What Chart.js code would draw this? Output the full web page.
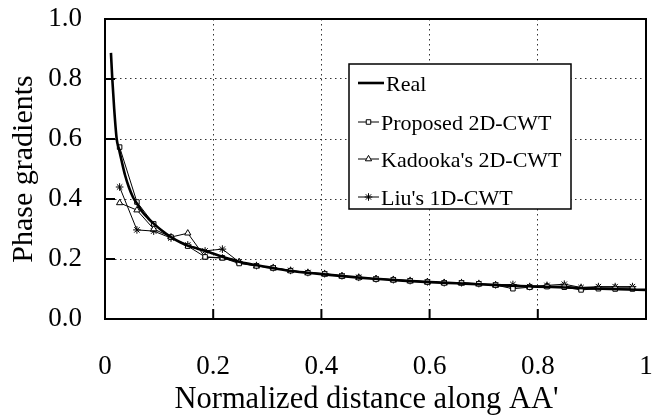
<!DOCTYPE html>
<html>
<head>
<meta charset="utf-8">
<script src="https://cdn.jsdelivr.net/npm/chart.js@4/dist/chart.umd.min.js"></script>
<style>
html,body{margin:0;padding:0;background:#fff;}
#wrap{width:654px;height:416px;position:relative;}
</style>
</head>
<body>
<div id="wrap"><canvas id="c" width="654" height="416"></canvas></div>
<script>
// ---- data ----
const seriesNames = ["Real", "Proposed 2D-CWT", "Kadooka's 2D-CWT", "Liu's 1D-CWT"];
const xTickLabels = ["0", "0.2", "0.4", "0.6", "0.8", "1"];
const yTickLabels = ["0.0", "0.2", "0.4", "0.6", "0.8", "1.0"];
const xTitle = "Normalized distance along AA'";
const yTitle = "Phase gradients";

const realX = [0.011, 0.0135, 0.017, 0.0216, 0.026, 0.031, 0.037, 0.044, 0.052, 0.059, 0.07, 0.08, 0.09, 0.105, 0.122, 0.14, 0.155, 0.17, 0.186, 0.2, 0.218, 0.235, 0.25, 0.28, 0.31, 0.34, 0.375, 0.41, 0.44, 0.47, 0.5, 0.55, 0.6, 0.65, 0.7, 0.75, 0.8, 0.85, 0.9, 0.95, 1.0];
const realY = [0.887, 0.80, 0.70, 0.60, 0.565, 0.525, 0.48, 0.44, 0.405, 0.385, 0.355, 0.335, 0.318, 0.295, 0.273, 0.255, 0.243, 0.235, 0.227, 0.218, 0.207, 0.198, 0.190, 0.179, 0.170, 0.161, 0.154, 0.148, 0.143, 0.138, 0.134, 0.128, 0.123, 0.119, 0.115, 0.111, 0.108, 0.105, 0.102, 0.099, 0.097];

const sampleX = [0.027, 0.059, 0.090, 0.122, 0.153, 0.185, 0.217, 0.248, 0.280, 0.311, 0.343, 0.375, 0.406, 0.438, 0.469, 0.501, 0.533, 0.564, 0.596, 0.627, 0.659, 0.691, 0.722, 0.754, 0.785, 0.817, 0.849, 0.880, 0.912, 0.943, 0.975];
const proposedY = [0.573, 0.390, 0.317, 0.273, 0.243, 0.207, 0.204, 0.185, 0.177, 0.170, 0.161, 0.154, 0.150, 0.143, 0.138, 0.133, 0.130, 0.127, 0.123, 0.120, 0.120, 0.117, 0.113, 0.101, 0.106, 0.108, 0.106, 0.097, 0.101, 0.100, 0.100];
const kadookaY  = [0.387, 0.363, 0.300, 0.273, 0.286, 0.206, 0.203, 0.190, 0.177, 0.170, 0.161, 0.154, 0.150, 0.143, 0.138, 0.134, 0.131, 0.127, 0.124, 0.121, 0.120, 0.117, 0.113, 0.108, 0.107, 0.109, 0.110, 0.103, 0.104, 0.104, 0.104];
const liuY      = [0.440, 0.297, 0.293, 0.270, 0.247, 0.227, 0.233, 0.190, 0.178, 0.171, 0.162, 0.155, 0.151, 0.144, 0.139, 0.134, 0.131, 0.128, 0.124, 0.121, 0.121, 0.118, 0.114, 0.115, 0.108, 0.112, 0.116, 0.105, 0.108, 0.108, 0.108];

// ---- build ----
function pts(xs, ys){ return xs.map((x,i)=>({x:x, y:ys[i]})); }
const FONT = "'Liberation Serif','Times New Roman',serif";

const datasets = [
  {label: seriesNames[0], data: pts(realX, realY), borderColor:'#000', borderWidth:2.6, pointRadius:0, cubicInterpolationMode:'monotone', fill:false},
  {label: seriesNames[1], data: pts(sampleX, proposedY), borderColor:'#000', borderWidth:1, pointStyle:'rect', pointRadius:3.2, pointBackgroundColor:'#fff', pointBorderColor:'#000', pointBorderWidth:1, tension:0, fill:false},
  {label: seriesNames[2], data: pts(sampleX, kadookaY), borderColor:'#000', borderWidth:1, pointStyle:'triangle', pointRadius:3.6, pointBackgroundColor:'#fff', pointBorderColor:'#000', pointBorderWidth:1, tension:0, fill:false},
  {label: seriesNames[3], data: pts(sampleX, liuY), borderColor:'#000', borderWidth:1, pointStyle:'star', pointRadius:3.8, pointBackgroundColor:'#fff', pointBorderColor:'#000', pointBorderWidth:1, tension:0, fill:false}
];

const framePlugin = {
  id: 'frame',
  afterDatasetsDraw(chart){
    const ctx = chart.ctx, a = chart.chartArea;
    const xs = chart.scales.x, ys = chart.scales.y;
    ctx.save();
    ctx.strokeStyle = '#000';
    ctx.lineWidth = 2;
    ctx.setLineDash([]);
    // inward ticks
    ctx.beginPath();
    [0.2,0.4,0.6,0.8].forEach(v=>{
      const py = ys.getPixelForValue(v);
      ctx.moveTo(a.left, py); ctx.lineTo(a.left+10, py);
      const px = xs.getPixelForValue(v);
      ctx.moveTo(px, a.bottom); ctx.lineTo(px, a.bottom-10);
    });
    ctx.stroke();
    ctx.strokeRect(a.left, a.top, a.right-a.left, a.bottom-a.top);

    // x axis title (slightly left of plot centre, as in the reference)
    ctx.fillStyle = '#000';
    ctx.font = "30.5px " + FONT;
    ctx.textAlign = 'center';
    ctx.textBaseline = 'alphabetic';
    ctx.fillText(xTitle, 366.5, 408);

    // legend
    const L = 349, T = 64, R = 571, B = 209;
    ctx.fillStyle = '#fff';
    ctx.fillRect(L, T, R-L, B-T);
    ctx.lineWidth = 1.5;
    ctx.strokeRect(L, T, R-L, B-T);
    const rows = [83, 122, 159, 197];
    ctx.font = "22px " + FONT;
    ctx.textBaseline = 'alphabetic';
    ctx.textAlign = 'left';
    chart.data.datasets.forEach((ds,i)=>{
      const y = rows[i];
      ctx.beginPath();
      ctx.strokeStyle = '#000';
      ctx.lineWidth = ds.borderWidth;
      const x1 = 358, x2 = (i===0) ? 384 : 379;
      ctx.moveTo(x1, y); ctx.lineTo(x2, y); ctx.stroke();
      if (ds.pointRadius > 0) {
        ctx.fillStyle = '#fff';
        ctx.lineWidth = 1;
        Chart.helpers.drawPoint(ctx, {pointStyle: ds.pointStyle, radius: ds.pointRadius, borderWidth: 1, rotation: 0}, (x1+x2)/2, y);
      }
      ctx.fillStyle = '#000';
      ctx.fillText(ds.label, (i===0) ? 386 : 381, y + 7.5);
    });
    ctx.restore();
  }
};

const hiddenEdge = (c)=> (c.tick && (c.tick.value===0 || Math.abs(c.tick.value-1)<1e-9)) ? 'rgba(0,0,0,0)' : '#333';

new Chart(document.getElementById('c'), {
  type: 'line',
  data: {datasets: datasets},
  options: {
    responsive: false,
    animation: false,
    devicePixelRatio: 1,
    layout: {padding: 0},
    plugins: {legend: {display: false}, tooltip: {enabled: false}},
    scales: {
      x: {
        type: 'linear', min: 0, max: 1,
        ticks: {stepSize: 0.2, color:'#000', font:{family: FONT, size: 27}, padding: 32, maxRotation: 0,
          callback: (v, i) => xTickLabels[i]},
        grid: {color: hiddenEdge, lineWidth: 1, drawTicks: false},
        border: {display: false, dash: [1.5, 3.5]},
        title: {display: false, text: xTitle},
        afterFit: (s)=>{ s.height = 97; s.paddingRight = 8; }
      },
      y: {
        type: 'linear', min: 0, max: 1,
        ticks: {stepSize: 0.2, color:'#000', font:{family: FONT, size: 27}, padding: 23,
          callback: (v, i) => yTickLabels[i]},
        grid: {color: hiddenEdge, lineWidth: 1, drawTicks: false},
        border: {display: false, dash: [1.5, 3.5]},
        title: {display: true, text: yTitle, color:'#000', font:{family: FONT, size: 30}, padding: {top: 6, bottom: 0}},
        afterFit: (s)=>{ s.width = 105; s.paddingTop = 19; }
      }
    }
  },
  plugins: [framePlugin]
});
</script>
</body>
</html>
